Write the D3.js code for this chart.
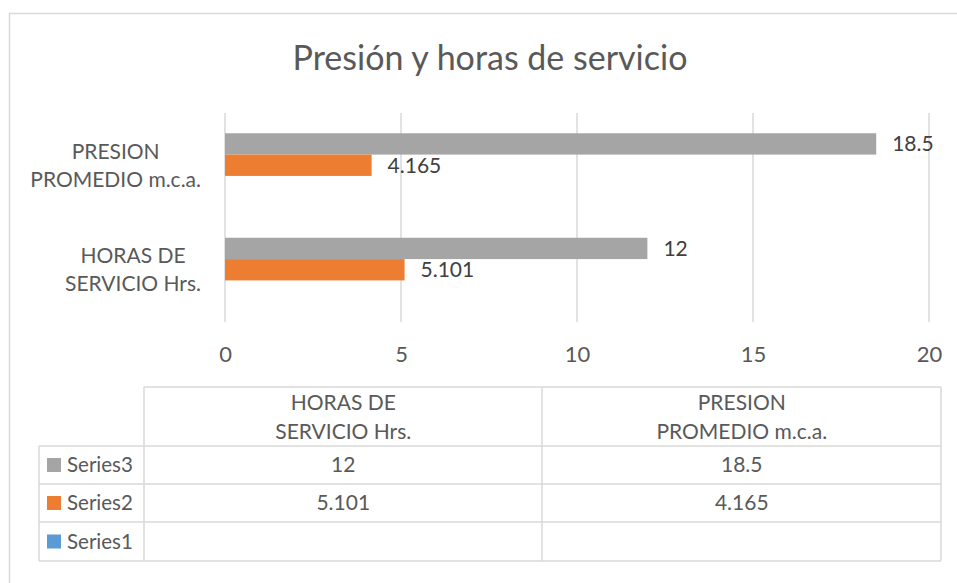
<!DOCTYPE html>
<html>
<head>
<meta charset="utf-8">
<script src="https://cdn.jsdelivr.net/npm/d3@7"></script>
<style>
  body { margin: 0; background: #fff; }
  svg { display: block; font-family: Lato, "Open Sans", sans-serif; }
</style>
</head>
<body>
<svg id="chart"></svg>
<script>
// data
const categories = ['PRESION PROMEDIO m.c.a.', 'HORAS DE SERVICIO Hrs.'];
const categoryLines = [['PRESION', 'PROMEDIO m.c.a.'], ['HORAS DE', 'SERVICIO Hrs.']];
const seriesNames = ['Series3', 'Series2', 'Series1'];
const series3 = [18.5, 12];
const series2 = [4.165, 5.101];
const series1 = [null, null];
const xTicks = [0, 5, 10, 15, 20];
const colors = ['#A5A5A5', '#ED7D31', '#5B9BD5'];

const seriesValues = [series3, series2, series1];

const W = 957, H = 583;
const margin = { top: 113, left: 225, right: 28, bottom: 261 };
const textColor = '#595959';
const lineColor = '#D9D9D9';

const svg = d3.select('#chart').attr('width', W).attr('height', H);

svg.append('rect').attr('width', W).attr('height', H).attr('fill', '#fff');

// outer chart border (runs off the right and bottom of the picture)
svg.append('rect')
    .attr('x', 9.5).attr('y', 13.5)
    .attr('width', W + 20).attr('height', H + 20)
    .attr('fill', 'none').attr('stroke', lineColor).attr('stroke-width', 1.5);

// title
svg.append('text')
    .attr('x', 490).attr('y', 70)
    .attr('text-anchor', 'middle')
    .attr('fill', textColor)
    .style('font-size', '34px')
    .text('Presión y horas de servicio');

const xScale = d3.scaleLinear()
    .domain([0, 20])
    .range([margin.left, W - margin.right]);

const yScale = d3.scaleBand()
    .domain(categories)
    .range([margin.top, H - margin.bottom]);

const ySub = d3.scaleBand()
    .domain(seriesNames)
    .range([0, yScale.bandwidth()])
    .paddingOuter(0.95);

// gridlines
svg.append('g')
    .selectAll('line')
    .data(xTicks)
    .join('line')
    .attr('x1', d => xScale(d)).attr('x2', d => xScale(d))
    .attr('y1', margin.top).attr('y2', H - margin.bottom)
    .attr('stroke', lineColor).attr('stroke-width', 1.5);

// x axis labels
const xAxis = d3.axisBottom(xScale).tickValues(xTicks).tickSize(0).tickPadding(0);
const xAxisGroup = svg.append('g')
    .attr('transform', `translate(0, ${H - margin.bottom + 24})`)
    .call(xAxis);
xAxisGroup.select('.domain').remove();
xAxisGroup.selectAll('text')
    .attr('fill', textColor)
    .attr('dy', '0.71em')
    .style('font-size', '22px')
    .style('font-family', 'Lato, sans-serif');

// bars
const groups = svg.append('g')
    .selectAll('g')
    .data(categories)
    .join('g')
    .attr('transform', d => `translate(0, ${yScale(d)})`);

groups.selectAll('rect')
    .data((d, i) => seriesNames.map((s, j) => ({ key: s, value: seriesValues[j][i], color: colors[j] })))
    .join('rect')
    .filter(d => d.value != null)
    .attr('x', xScale(0))
    .attr('y', d => ySub(d.key))
    .attr('width', d => xScale(d.value) - xScale(0))
    .attr('height', ySub.bandwidth())
    .attr('fill', d => d.color);

// data labels
groups.selectAll('text.val')
    .data((d, i) => seriesNames.map((s, j) => ({ key: s, value: seriesValues[j][i] })).filter(d => d.value != null))
    .join('text')
    .attr('class', 'val')
    .attr('x', d => xScale(d.value) + 16)
    .attr('y', d => ySub(d.key) + ySub.bandwidth() / 2)
    .attr('dy', '0.35em')
    .attr('fill', '#404040')
    .style('font-size', '21px')
    .text(d => d.value);

// category labels: lines centred within a block that is right-aligned
const catRight = 201;
categories.forEach((c, i) => {
    const cy = yScale(c) + yScale.bandwidth() / 2;
    const lines = categoryLines[i];
    const t = svg.append('text')
        .attr('fill', textColor)
        .style('font-size', '21px')
        .attr('text-anchor', 'middle');
    lines.forEach((ln, k) => {
        t.append('tspan')
            .attr('y', cy + (k - (lines.length - 1) / 2) * 28)
            .attr('dy', '0.35em')
            .text(ln);
    });
    let maxW = 0;
    t.selectAll('tspan').each(function () { maxW = Math.max(maxW, this.getComputedTextLength()); });
    t.selectAll('tspan').attr('x', catRight - maxW / 2);
});

// data table
const colX = [39, 144, 542, 941];
const rowY = [387, 446, 484, 522, 561];
const table = svg.append('g');

const colCenter = d3.scaleBand().domain(categories.slice().reverse()).range([colX[1], colX[3]]);

// table lines
table.append('line').attr('x1', colX[1]).attr('x2', colX[3]).attr('y1', rowY[0]).attr('y2', rowY[0]);
rowY.slice(1).forEach(y => {
    table.append('line').attr('x1', colX[0]).attr('x2', colX[3]).attr('y1', y).attr('y2', y);
});
table.append('line').attr('x1', colX[0]).attr('x2', colX[0]).attr('y1', rowY[1]).attr('y2', rowY[4]);
colX.slice(1).forEach(x => {
    table.append('line').attr('x1', x).attr('x2', x).attr('y1', rowY[0]).attr('y2', rowY[4]);
});
table.selectAll('line').attr('stroke', lineColor).attr('stroke-width', 1.5);

// header cells
const tableCats = categories.slice().reverse();
tableCats.forEach(c => {
    const lines = categoryLines[categories.indexOf(c)];
    const t = table.append('text')
        .attr('text-anchor', 'middle')
        .attr('fill', textColor)
        .style('font-size', '21px');
    lines.forEach((ln, k) => {
        t.append('tspan')
            .attr('x', colCenter(c) + colCenter.bandwidth() / 2)
            .attr('y', 403 + k * 29)
            .attr('dy', '0.35em')
            .text(ln);
    });
});

// legend rows with values
seriesNames.forEach((s, j) => {
    const yMid = (rowY[j + 1] + rowY[j + 2]) / 2;
    table.append('rect')
        .attr('x', 47).attr('y', yMid - 7)
        .attr('width', 14).attr('height', 14)
        .attr('fill', colors[j]);
    table.append('text')
        .attr('x', 67).attr('y', yMid)
        .attr('dy', '0.35em')
        .attr('fill', textColor)
        .style('font-size', '20.5px')
        .text(s);
    tableCats.forEach(c => {
        const v = seriesValues[j][categories.indexOf(c)];
        if (v == null) return;
        table.append('text')
            .attr('x', colCenter(c) + colCenter.bandwidth() / 2)
            .attr('y', yMid)
            .attr('dy', '0.35em')
            .attr('text-anchor', 'middle')
            .attr('fill', textColor)
            .style('font-size', '21px')
            .text(v);
    });
});
</script>
</body>
</html>
